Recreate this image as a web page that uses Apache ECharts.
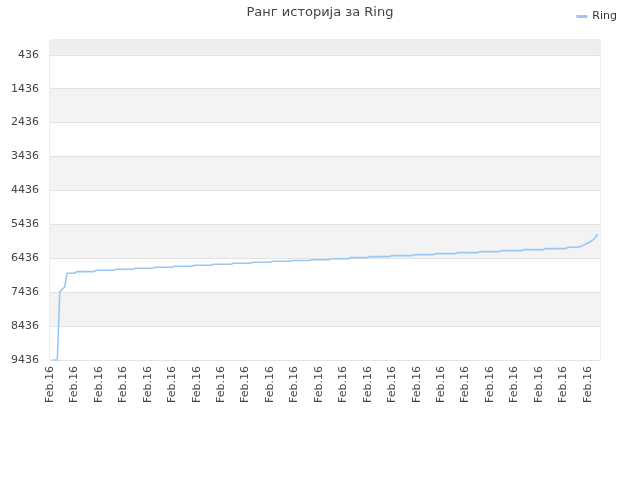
<!DOCTYPE html>
<html lang="sr">
<head>
    <meta charset="UTF-8">
    <title>Ранг историја за Ring</title>
    <script src="https://cdn.jsdelivr.net/npm/echarts/dist/echarts.min.js"></script>
    <style>
        html, body { margin: 0; padding: 0; background: #fff; }
        #chart { width: 640px; height: 480px; }
    </style>
</head>
<body>
    <div id="chart"></div>
    <script>
        // ранг по времену (мање = боље), очитано са слике
        const rank = [
            null, 9436, 9436, 9436, 7422, 7350, 7283, 6879, 6879, 6879, 6879,
            6829, 6829, 6829, 6829, 6829, 6829, 6829, 6829,
            6791, 6791, 6791, 6791, 6791, 6791, 6791, 6791,
            6761, 6761, 6761, 6761, 6761, 6761, 6761, 6761,
            6732, 6732, 6732, 6732, 6732, 6732, 6732, 6732,
            6702, 6702, 6702, 6702, 6702, 6702, 6702, 6702,
            6673, 6673, 6673, 6673, 6673, 6673, 6673, 6673,
            6643, 6643, 6643, 6643, 6643, 6643, 6643, 6643,
            6614, 6614, 6614, 6614, 6614, 6614, 6614, 6614,
            6584, 6584, 6584, 6584, 6584, 6584, 6584, 6584,
            6555, 6555, 6555, 6555, 6555, 6555, 6555, 6555,
            6525, 6525, 6525, 6525, 6525, 6525, 6525, 6525,
            6502, 6502, 6502, 6502, 6502, 6502, 6502, 6502,
            6478, 6478, 6478, 6478, 6478, 6478, 6478, 6478,
            6449, 6449, 6449, 6449, 6449, 6449, 6449, 6449,
            6416, 6416, 6416, 6416, 6416, 6416, 6416, 6416,
            6387, 6387, 6387, 6387, 6387, 6387, 6387, 6387, 6387,
            6357, 6357, 6357, 6357, 6357, 6357, 6357, 6357, 6357,
            6328, 6328, 6328, 6328, 6328, 6328, 6328, 6328, 6328,
            6298, 6298, 6298, 6298, 6298, 6298, 6298, 6298, 6298,
            6269, 6269, 6269, 6269, 6269, 6269, 6269, 6269, 6269,
            6240, 6240, 6240, 6240, 6240, 6240, 6240, 6240, 6240,
            6210, 6210, 6210, 6210, 6210, 6210, 6210, 6210, 6210,
            6180, 6180, 6180, 6180, 6180, 6180, 6180, 6180, 6180,
            6151, 6151, 6151, 6151, 6151, 6151, 6151, 6151, 6151,
            6113, 6113, 6113, 6113,
            6104, 6092, 6057, 6021, 5986, 5948, 5906, 5824, 5729,
            null
        ];
        // сва мерења су истог дана
        const categories = rank.map(() => 'Feb.16');
        const yTicks = [436, 1436, 2436, 3436, 4436, 5436, 6436, 7436, 8436, 9436];

        const chart = echarts.init(document.getElementById('chart'));

        const option = {
            animation: false,
            textStyle: { fontFamily: 'DejaVu Sans' },
            title: {
                text: 'Ранг историја за Ring',
                left: 'center',
                top: 1,
                textStyle: { fontSize: 13, fontWeight: 'normal', color: '#444' }
            },
            legend: {
                right: 18,
                top: 6,
                itemWidth: 11,
                itemHeight: 3,
                itemGap: 6,
                textStyle: { fontSize: 11, color: '#333' },
                data: [{ name: 'Ring', icon: 'rect' }]
            },
            grid: {
                left: 50, right: 40, top: 40, bottom: 120,
                show: true, borderColor: '#dcdcdc', borderWidth: 1
            },
            xAxis: {
                type: 'category',
                boundaryGap: false,
                data: categories,
                axisLine: { lineStyle: { color: '#dcdcdc' } },
                axisTick: { show: false },
                axisLabel: { interval: 9, rotate: 90, fontSize: 11, color: '#444', margin: 6 },
                splitLine: { show: false }
            },
            yAxis: {
                type: 'value',
                inverse: true,
                min: 0,
                max: 9436,
                axisLine: { show: false },
                axisTick: { show: false, customValues: yTicks },
                axisLabel: {
                    customValues: yTicks,
                    formatter: v => String(v),
                    fontSize: 11, color: '#444', margin: 11
                },
                splitLine: { show: true, customValues: yTicks, lineStyle: { color: '#e2e2e2' } },
                splitArea: { show: true, customValues: yTicks, areaStyle: { color: ['#ffffff', '#f3f3f3'] } }
            },
            series: [{
                name: 'Ring',
                type: 'line',
                data: rank,
                showSymbol: false,
                symbol: 'none',
                itemStyle: { color: '#97c7f2' },
                lineStyle: { width: 1.6, color: '#97c7f2' },
                markArea: {
                    silent: true,
                    itemStyle: { color: '#eeeeee' },
                    data: [[{ yAxis: 0 }, { yAxis: 436 }]]
                }
            }]
        };

        chart.setOption(option);
    </script>
</body>
</html>
